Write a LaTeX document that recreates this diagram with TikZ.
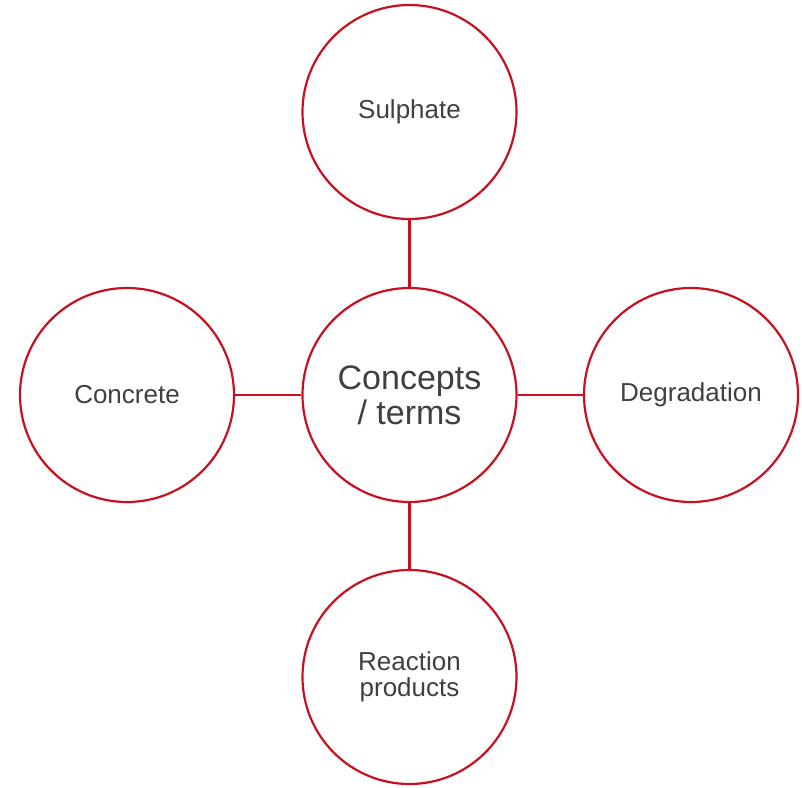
\documentclass[tikz,border=0pt]{standalone}
\usepackage{fontspec}
\setmainfont{Liberation Sans}
\usepackage{xcolor}
\usetikzlibrary{positioning}

\definecolor{ringred}{RGB}{200,16,32}
\definecolor{textgray}{RGB}{64,64,64}

\tikzset{
  term/.style={circle,draw=ringred,line width=2.2pt,fill=white,minimum size=214pt,
    inner sep=0pt,align=center,text=textgray,font=\fontsize{26}{26}\selectfont},
  hub/.style={term,font=\fontsize{34}{35}\selectfont},
  link/.style={ringred,line width=2.2pt}
}

\begin{document}
\begin{tikzpicture}[x=1pt,y=1pt]
\useasboundingbox (0,0) rectangle (802,-787);

% Central concept
\node[hub] (terms) at (409.5,-395) {Concepts\\/ terms};

% Surrounding concepts
\node[term] (sulphate) at (409.5,-112) {Sulphate};
\node[term] (concrete) at (127,-395) {Concrete};
\node[term] (degradation) at (691,-395) {Degradation};
\node[term] (products) at (409.5,-677) {Reaction\\products};

% Links
\foreach \n in {sulphate,concrete,degradation,products}
  \draw[link] (terms) -- (\n);
\end{tikzpicture}
\end{document}
